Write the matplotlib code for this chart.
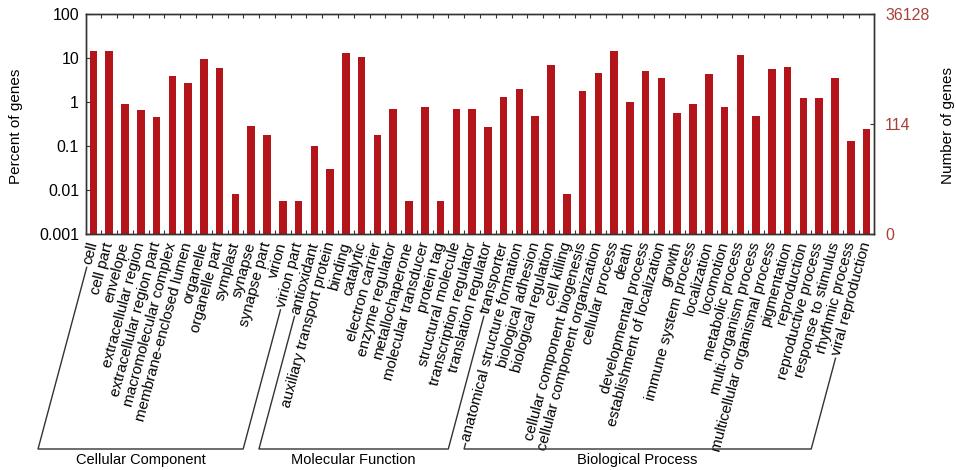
import numpy as np
import matplotlib
matplotlib.use("Agg")
import matplotlib.pyplot as plt
from matplotlib.lines import Line2D

categories = [
    "cell", "cell part", "envelope", "extracellular region", "extracellular region part",
    "macromolecular complex", "membrane-enclosed lumen", "organelle", "organelle part",
    "symplast", "synapse", "synapse part", "virion", "virion part",
    "antioxidant", "auxiliary transport protein", "binding", "catalytic", "electron carrier",
    "enzyme regulator", "metallochaperone", "molecular transducer", "protein tag",
    "structural molecule", "transcription regulator", "translation regulator", "transporter",
    "anatomical structure formation", "biological adhesion", "biological regulation",
    "cell killing", "cellular component biogenesis", "cellular component organization",
    "cellular process", "death", "developmental process", "establishment of localization",
    "growth", "immune system process", "localization", "locomotion", "metabolic process",
    "multi-organism process", "multicellular organismal process", "pigmentation",
    "reproduction", "reproductive process", "response to stimulus", "rhythmic process",
    "viral reproduction",
]
percent = [
    14.6, 14.6, 0.88, 0.67, 0.46, 3.9, 2.7, 9.6, 6.0, 0.0083, 0.29, 0.175, 0.0055, 0.0055,
    0.10, 0.030, 13.2, 10.5, 0.175, 0.70, 0.0055, 0.75, 0.0055, 0.70, 0.70, 0.27, 1.28,
    1.94, 0.48, 7.1, 0.0083, 1.75, 4.5, 14.6, 1.02, 5.0, 3.45, 0.56, 0.92, 4.3, 0.77, 11.9,
    0.49, 5.5, 6.4, 1.25, 1.21, 3.45, 0.128, 0.243,
]
groups = ["Cellular Component", "Molecular Function", "Biological Process"]
group_sizes = [14, 13, 23]
total_genes = 36128
right_tick_counts = [0, 114, 36128]
left_ticks = [0.001, 0.01, 0.1, 1, 10, 100]
left_tick_labels = ["0.001", "0.01", "0.1", "1", "10", "100"]

plt.rcParams['font.family'] = ['Liberation Sans', 'DejaVu Sans']
BAR = '#b3151b'
RCOL = '#a8403a'
SPINE = '#333333'
ROT = 75.0

fig = plt.figure(figsize=(9.56, 4.70), dpi=100)
ax = fig.add_axes([86 / 956, 1 - 234 / 470, 788 / 956, 220 / 470])
ax.set_yscale('log')
ymin, ymax = 0.001, 100
ax.set_ylim(ymin, ymax)
x = np.arange(len(categories))
heights = np.array(percent) - ymin
ax.bar(x, heights, bottom=ymin, width=0.48, color=BAR, zorder=2)
ax.set_xlim(-0.47, len(categories) - 1 + 0.47)

ax.set_yticks(left_ticks)
ax.set_yticklabels(left_tick_labels, fontsize=11.5)
ax.yaxis.set_minor_locator(matplotlib.ticker.NullLocator())
ax.tick_params(axis='y', direction='in', length=4, width=0.8, color=SPINE, pad=5)

ax.set_xticks(x)
ax.set_xticklabels(categories, rotation=ROT, ha='right', va='center',
                   rotation_mode='anchor', fontsize=11)
ax.tick_params(axis='x', which='major', length=0, pad=6)
ax.set_xticks(x[:-1] + 0.5, minor=True)
ax.tick_params(axis='x', which='minor', direction='in', length=3, width=0.8,
               color=SPINE, top=True, bottom=True)
for s in ax.spines.values():
    s.set_color(SPINE)
    s.set_linewidth(1.0)

ax.set_ylabel("Percent of genes", fontsize=11)
ax.yaxis.set_label_coords((23 - 86) / 788, (234 - 126) / 220)

ax2 = ax.twinx()
ax2.set_yscale('log')
ax2.set_ylim(ymin, ymax)
rpos = [max(c / total_genes * 100, ymin) for c in right_tick_counts]
ax2.set_yticks(rpos)
ax2.set_yticklabels([str(c) for c in right_tick_counts], fontsize=11.5, color=RCOL)
ax2.yaxis.set_minor_locator(matplotlib.ticker.NullLocator())
ax2.tick_params(axis='y', direction='in', length=3, width=0.8, color=SPINE, pad=8)
for s in ax2.spines.values():
    s.set_color(SPINE)
    s.set_linewidth(1.0)
ax2.set_ylabel("Number of genes", fontsize=11, rotation=90)
ax2.yaxis.set_label_coords((941 - 86) / 788, (234 - 126) / 220)

# group brackets
fig.canvas.draw()
renderer = fig.canvas.get_renderer()
labels = ax.get_xticklabels()
th = np.deg2rad(ROT)
d = np.array([np.cos(th), np.sin(th)])
H = 470
y_b = H - 449
gap = 3.0
to_fig = fig.transFigure.inverted()


def start_line(i):
    lab = labels[i]
    anchor = np.array(lab.get_transform().transform(lab.get_position()))
    w, h, dsc = renderer.get_text_width_height_descent(lab.get_text(),
                                                        lab.get_fontproperties(), ismath=False)
    top = anchor - (w + gap) * d
    t = (top[1] - y_b) / d[1]
    bot = top - t * d
    return top, bot


idx = 0
for g, n in zip(groups, group_sizes):
    lt, lb = start_line(idx)
    rt, rb = start_line(idx + n - 1)
    pts = np.array([lt, lb, rb, rt])
    fp = to_fig.transform(pts)
    fig.add_artist(Line2D(fp[:, 0], fp[:, 1], transform=fig.transFigure,
                          color=SPINE, linewidth=1.0))
    cx = (lb[0] + rb[0]) / 2
    c = to_fig.transform([[cx, y_b - 11]])[0]
    fig.text(c[0], c[1], g, ha='center', va='center', fontsize=10.5)
    idx += n

fig.savefig("out.png", dpi=100)
